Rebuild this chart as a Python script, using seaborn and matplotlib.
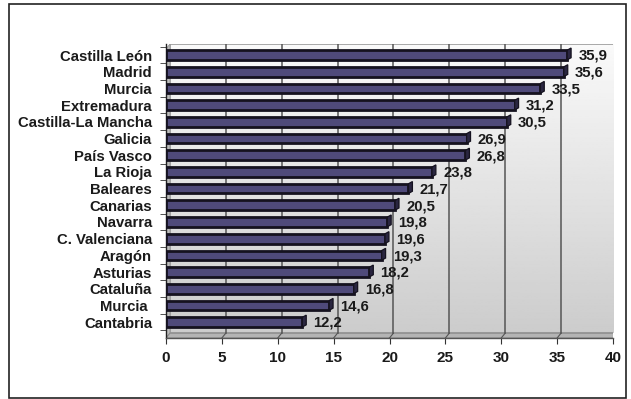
import numpy as np
import pandas as pd
import matplotlib
matplotlib.use("Agg")
import matplotlib.pyplot as plt
from matplotlib.patches import Polygon, Rectangle
import seaborn as sns

regions = ["Castilla León", "Madrid", "Murcia", "Extremadura", "Castilla-La Mancha",
           "Galicia", "País Vasco", "La Rioja", "Baleares", "Canarias", "Navarra",
           "C. Valenciana", "Aragón", "Asturias", "Cataluña", "Murcia ", "Cantabria"]
values = [35.9, 35.6, 33.5, 31.2, 30.5, 26.9, 26.8, 23.8, 21.7, 20.5, 19.8,
          19.6, 19.3, 18.2, 16.8, 14.6, 12.2]
value_labels = [f"{v:.1f}".replace(".", ",") for v in values]
x_ticks = [0, 5, 10, 15, 20, 25, 30, 35, 40]

df = pd.DataFrame({"region": regions, "value": values})

W, H = 631, 399
fig = plt.figure(figsize=(W / 100, H / 100), dpi=100)
plt.rcParams["font.family"] = ["Liberation Sans", "DejaVu Sans"]
FS = 10.7

# outer frame
fig.add_artist(Rectangle((9 / W, 1 - 398 / H), 617 / W, 394 / H,
                         transform=fig.transFigure, fill=False,
                         edgecolor="#222222", linewidth=1.2))

left, right, top, bottom = 166, 613, 44, 338
ax = fig.add_axes([left / W, 1 - bottom / H, (right - left) / W, (bottom - top) / H])

n = len(regions)
y_top, y_bot = -0.66, 16.95
wall_bot = 16.66
dx = 0.35  # 3D depth in x units

# back wall gradient
grad = np.linspace(0.98, 0.80, 200).reshape(-1, 1)
ax.imshow(grad, cmap="gray", vmin=0, vmax=1, aspect="auto",
          extent=[dx, 40.6, wall_bot, y_top], zorder=0)
ax.add_patch(Rectangle((dx, y_top), 40.6 - dx, wall_bot - y_top, fill=False,
                       edgecolor="#9a9a9a", linewidth=1.2, zorder=1))
# side wall
ax.add_patch(Polygon([(0, y_top + 0.3), (dx, y_top), (dx, wall_bot), (0, y_bot)],
                     closed=True, facecolor="#bdbdbd", edgecolor="#9a9a9a",
                     linewidth=0.6, zorder=1))
# floor
ax.add_patch(Polygon([(0, y_bot), (dx, wall_bot), (40.6, wall_bot), (40.25, y_bot)],
                     closed=True, facecolor="#b4b4b4", edgecolor="#8a8a8a",
                     linewidth=0.8, zorder=1))

# vertical gridlines on the back wall
for t in x_ticks[1:-1]:
    ax.plot([t + dx, t + dx], [y_top, wall_bot], color="#555555", lw=1.1, zorder=1)
    ax.plot([t, t + dx], [y_bot, wall_bot], color="#555555", lw=0.8, zorder=1)

sns.barplot(data=df, x="value", y="region", orient="h", ax=ax, width=0.58,
            color="#4f4a7a", edgecolor="#15121f", linewidth=2.0, saturation=1,
            zorder=3)

# 3D end caps of the bars
for i, v in enumerate(values):
    ax.add_patch(Polygon([(v, i - 0.29), (v + dx, i - 0.42), (v + dx, i + 0.16),
                          (v, i + 0.29)], closed=True, facecolor="#2a2640",
                         edgecolor="#15121f", linewidth=0.9, zorder=4))
    ax.text(v + 1.0, i + 0.05, value_labels[i], ha="left", va="center",
            fontsize=FS, fontweight="bold", color="#1a1a1a", zorder=5)

ax.set_xlim(0, 40)
ax.set_ylim(y_bot, y_top)
ax.set_xticks(x_ticks)
ax.set_xticklabels([str(t) for t in x_ticks], fontsize=11, fontweight="bold",
                   color="#1a1a1a")
ax.set_yticks(range(n))
ax.set_yticklabels(regions, fontsize=FS, fontweight="bold", color="#1a1a1a")
ax.set_yticks(np.arange(-0.5, n, 1.0), minor=True)
ax.tick_params(axis="y", which="major", length=0, pad=10)
ax.tick_params(axis="y", which="minor", length=4, color="#333333", direction="out")
ax.tick_params(axis="x", length=4, color="#333333", direction="out", pad=5)
ax.set_xlabel("")
ax.set_ylabel("")
for s in ["top", "right"]:
    ax.spines[s].set_visible(False)
ax.spines["left"].set_color("#222222")
ax.spines["left"].set_linewidth(1.0)
ax.spines["bottom"].set_color("#555555")
ax.spines["bottom"].set_linewidth(1.0)
ax.set_facecolor("none")

fig.savefig("out.png", dpi=100)
